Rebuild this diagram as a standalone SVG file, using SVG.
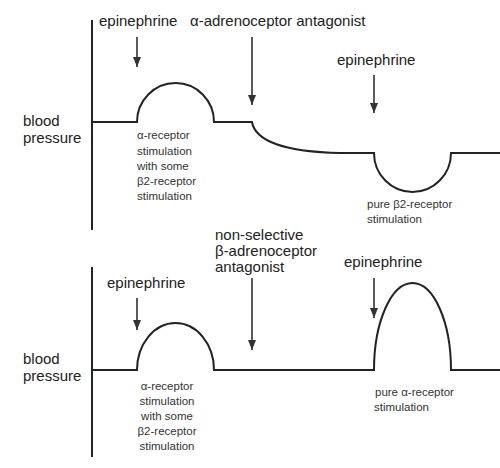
<svg xmlns="http://www.w3.org/2000/svg" width="500" height="468" viewBox="0 0 500 468">
<defs>
<marker id="ah" viewBox="0 0 10 8" refX="10" refY="4" markerWidth="10" markerHeight="8" markerUnits="userSpaceOnUse" orient="auto">
<path d="M0,0 L10,4 L0,8 Z" fill="#333"/>
</marker>
<style>
.big{font-family:"Liberation Sans",Arial,sans-serif;font-size:15px;fill:#222}
.small{font-family:"Liberation Sans",Arial,sans-serif;font-size:11.5px;fill:#333}
.line{fill:none;stroke:#222;stroke-width:2}
.arr{stroke:#333;stroke-width:1.6;fill:none}
</style>
</defs>
<rect width="500" height="468" fill="#fff"/>
<g id="top-panel">
<g id="top-axis"><line class="line" x1="92" y1="20" x2="92" y2="230"/>
<text class="big" x="23" y="126">blood</text><text class="big" x="23" y="143">pressure</text></g>
<g id="top-trace"><path class="line" d="M92,122 L137,122 A38.5,39 0 0 1 214,122 L252,122 C255,141 285,152 340,153 L374,153 A38.5,39 0 0 0 451,153 L500,153"/></g>
<g id="top-epi1"><text class="big" x="99" y="26">epinephrine</text></g>
<g id="top-antag"><text class="big" x="190" y="26">α-adrenoceptor antagonist</text></g>
<g id="top-epi2"><text class="big" x="337" y="65">epinephrine</text></g>
<g id="top-note1"><text class="small" x="137" y="139">α-receptor</text><text class="small" x="137" y="155">stimulation</text><text class="small" x="137" y="170">with some</text><text class="small" x="137" y="185">β2-receptor</text><text class="small" x="137" y="200">stimulation</text></g>
<g id="top-note2"><text class="small" x="367" y="208">pure β2-receptor</text><text class="small" x="367" y="223">stimulation</text></g>
</g>
<g id="bottom-panel">
<g id="bot-axis"><line class="line" x1="92" y1="267" x2="92" y2="457"/>
<text class="big" x="23" y="364">blood</text><text class="big" x="23" y="381">pressure</text></g>
<g id="bot-trace"><path class="line" d="M92,370 L137,370 A38.5,47 0 0 1 214,370 L374,370 A38.5,87 0 0 1 451,370 L500,370"/></g>
<g id="bot-epi1"><text class="big" x="107" y="288">epinephrine</text></g>
<g id="bot-antag"><text class="big" x="215" y="240">non-selective</text><text class="big" x="215" y="256">β-adrenoceptor</text><text class="big" x="215" y="272">antagonist</text></g>
<g id="bot-epi2"><text class="big" x="344" y="267">epinephrine</text></g>
<g id="bot-note1" text-anchor="middle"><text class="small" x="167" y="390">α-receptor</text><text class="small" x="167" y="405">stimulation</text><text class="small" x="167" y="420">with some</text><text class="small" x="167" y="435">β2-receptor</text><text class="small" x="167" y="450">stimulation</text></g>
<g id="bot-note2"><text class="small" x="375" y="396">pure α-receptor</text><text class="small" x="374" y="411">stimulation</text></g>
</g>
<g id="connectors">
<line class="arr" x1="137" y1="37" x2="137" y2="67" marker-end="url(#ah)"/>
<line class="arr" x1="252" y1="37" x2="252" y2="105" marker-end="url(#ah)"/>
<line class="arr" x1="374" y1="75" x2="374" y2="113" marker-end="url(#ah)"/>
<line class="arr" x1="137" y1="298" x2="137" y2="330" marker-end="url(#ah)"/>
<line class="arr" x1="252" y1="278" x2="252" y2="350" marker-end="url(#ah)"/>
<line class="arr" x1="374" y1="278" x2="374" y2="318" marker-end="url(#ah)"/>
</g>
</svg>
